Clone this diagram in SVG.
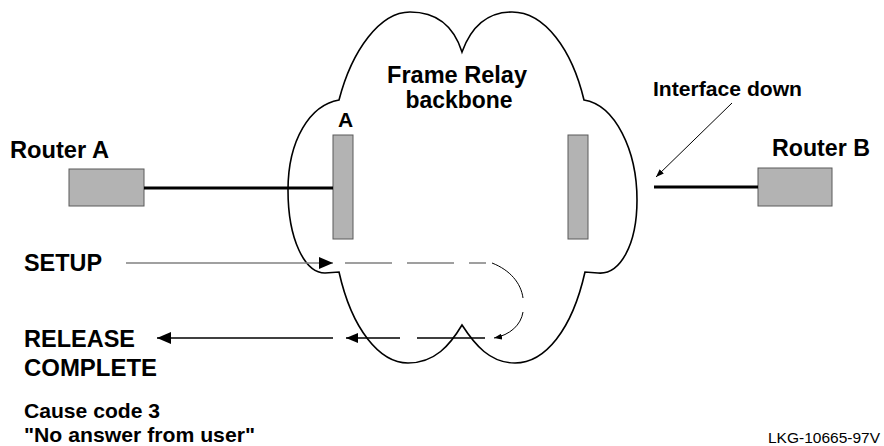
<svg xmlns="http://www.w3.org/2000/svg" width="884" height="446" viewBox="0 0 884 446">
<style>
.lbl{font-family:"Liberation Sans",Arial,Helvetica,sans-serif;font-weight:bold;fill:#000}
.big{font-size:23px}
.sm{font-size:20.5px}
.id{font-family:"Liberation Sans",Arial,Helvetica,sans-serif;font-size:15.5px;fill:#000}
.box{fill:#b3b3b3;stroke:#5a5a5a;stroke-width:1}
.cloud{fill:#fff;stroke:#000;stroke-width:1.6;stroke-linejoin:miter}
.link{stroke:#000;stroke-width:3;fill:none}
</style>
<defs>
<marker id="ah" viewBox="0 0 14 12" refX="14" refY="6" markerWidth="14" markerHeight="12" markerUnits="userSpaceOnUse" orient="auto">
<path d="M0,0 L14,6 L0,12 Z" fill="#000"/>
</marker>
<marker id="ahs" viewBox="0 0 12 10" refX="12" refY="5" markerWidth="12" markerHeight="10" markerUnits="userSpaceOnUse" orient="auto">
<path d="M0,0 L12,5 L0,10 Z" fill="#000"/>
</marker>
<marker id="aht" viewBox="0 0 8 6" refX="8" refY="3" markerWidth="8" markerHeight="6" markerUnits="userSpaceOnUse" orient="auto">
<path d="M0,0 L8,3 L0,6 Z" fill="#000"/>
</marker>
</defs>

<g id="backbone">
<path class="cloud" d="M339,100 C352,50 380,12 410,12 C440,12 455,30 462,52 C470,30 485,12 512,12 C545,12 572,50 584,100 C615,105 637,150 637,200 C637,245 620,275 598,273 L585,272 C572,330 545,363 515,363 C490,363 475,345 462,325 C450,345 435,363 408,363 C380,363 352,330 339,272 L325,273 C305,273 288,240 288,190 C288,140 310,105 339,100 Z"/>
<text class="lbl" x="457" y="83" text-anchor="middle" font-size="23.5" textLength="140" lengthAdjust="spacingAndGlyphs">Frame Relay</text>
<text class="lbl" x="459" y="108" text-anchor="middle" font-size="23.5" textLength="107" lengthAdjust="spacingAndGlyphs">backbone</text>
</g>

<g id="routerA">
<rect class="box" x="69" y="169" width="75" height="37"/>
<text class="lbl big" x="10" y="158" textLength="99" lengthAdjust="spacingAndGlyphs">Router A</text>
</g>

<g id="routerB">
<rect class="box" x="758" y="168" width="74" height="38"/>
<text class="lbl big" x="772" y="156" textLength="98" lengthAdjust="spacingAndGlyphs">Router B</text>
</g>

<g id="interfaceA">
<rect class="box" x="333" y="135" width="20" height="104"/>
<text class="lbl" x="338" y="127" font-size="21">A</text>
</g>

<g id="interfaceB">
<rect class="box" x="568" y="135" width="20" height="104"/>
</g>

<g id="connectors">
<line class="link" x1="144" y1="188" x2="333" y2="188"/>
<line class="link" x1="654" y1="187" x2="758" y2="187"/>
<line x1="732" y1="103" x2="656" y2="177" stroke="#000" stroke-width="1" marker-end="url(#aht)"/>
<line x1="126" y1="263" x2="333" y2="263" stroke="#808080" stroke-width="1.6" marker-end="url(#ah)"/>
<line x1="345" y1="263" x2="486" y2="263" stroke="#808080" stroke-width="1.6" stroke-dasharray="47 15"/>
<path d="M492,263 C510,270 521,283 523,298" fill="none" stroke="#000" stroke-width="1"/>
<path d="M523,312 C521,325 510,335 494,338" fill="none" stroke="#000" stroke-width="1" marker-end="url(#aht)"/>
<line x1="485" y1="338" x2="346" y2="338" stroke="#000" stroke-width="1.4" stroke-dasharray="68 17" marker-end="url(#ahs)"/>
<line x1="333" y1="338" x2="157" y2="338" stroke="#000" stroke-width="1.4" marker-end="url(#ah)"/>
</g>

<g id="labels">
<text class="lbl sm" x="653" y="96" textLength="149" lengthAdjust="spacingAndGlyphs">Interface down</text>
<text class="lbl big" x="24" y="271" textLength="78" lengthAdjust="spacingAndGlyphs">SETUP</text>
<text class="lbl big" x="24" y="347" textLength="111" lengthAdjust="spacingAndGlyphs">RELEASE</text>
<text class="lbl big" x="24" y="376" textLength="133" lengthAdjust="spacingAndGlyphs">COMPLETE</text>
<text class="lbl sm" x="24" y="418" textLength="136" lengthAdjust="spacingAndGlyphs">Cause code 3</text>
<text class="lbl sm" x="24" y="442" textLength="231" lengthAdjust="spacingAndGlyphs">"No answer from user"</text>
<text class="id" x="768" y="443" textLength="112" lengthAdjust="spacingAndGlyphs">LKG-10665-97V</text>
</g>
</svg>
